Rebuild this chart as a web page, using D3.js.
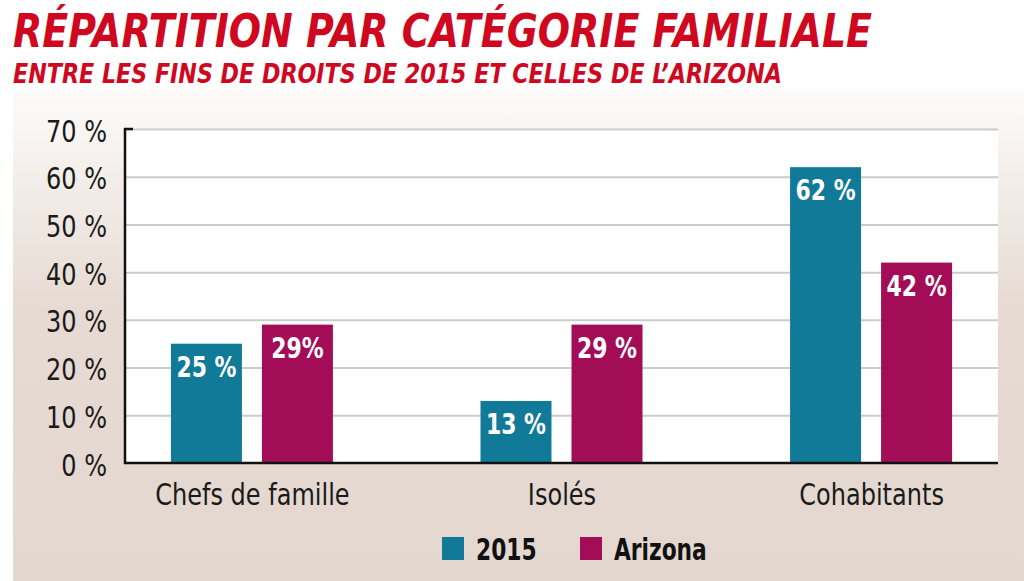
<!DOCTYPE html>
<html>
<head>
<meta charset="utf-8">
<script src="https://cdn.jsdelivr.net/npm/d3@7"></script>
<style>
  body { margin: 0; background: #fff; }
  svg text { font-family: "Liberation Sans Narrow", "DejaVu Sans Condensed", sans-serif; }
</style>
</head>
<body>
<svg id="chart" width="1024" height="581"></svg>
<script>
// data
const categories = ["Chefs de famille", "Isolés", "Cohabitants"];
const seriesNames = ["2015", "Arizona"];
const values2015 = [25, 13, 62];
const valuesArizona = [29, 29, 42];
const labels2015 = ["25 %", "13 %", "62 %"];
const labelsArizona = ["29%", "29 %", "42 %"];
const yTicks = [0, 10, 20, 30, 40, 50, 60, 70];
const seriesColors = ["#117a98", "#a30d58"];

const titleText = "RÉPARTITION PAR CATÉGORIE FAMILIALE";
const subtitleText = "ENTRE LES FINS DE DROITS DE 2015 ET CELLES DE L’ARIZONA";

const svg = d3.select("#chart");
const plotLeft = 125, plotRight = 998, plotTop = 129, plotBottom = 463;

// squeeze text horizontally, the original uses a narrower face
function condense(sel, k) {
    sel.each(function () {
        const w = this.getComputedTextLength();
        d3.select(this)
            .attr("textLength", w * k)
            .attr("lengthAdjust", "spacingAndGlyphs");
    });
}

// background panel
const defs = svg.append("defs");
const grad = defs.append("linearGradient")
    .attr("id", "panelGrad")
    .attr("x1", 0).attr("y1", 0).attr("x2", 0).attr("y2", 1);
grad.append("stop").attr("offset", "0%").attr("stop-color", "#fdfcfb");
grad.append("stop").attr("offset", "45%").attr("stop-color", "#e6dad2");
grad.append("stop").attr("offset", "100%").attr("stop-color", "#e4d7cf");

svg.append("rect")
    .attr("x", 13).attr("y", 88)
    .attr("width", 1011).attr("height", 493)
    .attr("fill", "url(#panelGrad)");

// titles
svg.append("text")
    .attr("x", 13).attr("y", 47)
    .attr("textLength", 859).attr("lengthAdjust", "spacingAndGlyphs")
    .style("font-size", "47px").style("font-weight", "bold").style("font-style", "italic")
    .attr("fill", "#d0081f")
    .text(titleText);

svg.append("text")
    .attr("x", 13).attr("y", 83)
    .attr("textLength", 769).attr("lengthAdjust", "spacingAndGlyphs")
    .style("font-size", "27px").style("font-weight", "bold").style("font-style", "italic")
    .attr("fill", "#d0081f")
    .text(subtitleText);

// scales
const x0 = d3.scalePoint().domain(categories).range([plotLeft, plotRight]).padding(0.41);
const x1 = d3.scaleBand().domain(seriesNames).range([-81, 81]).paddingInner(0.22);
const y = d3.scaleLinear().domain([0, 70]).range([plotBottom, plotTop]);
const color = d3.scaleOrdinal().domain(seriesNames).range(seriesColors);

// plot area
svg.append("rect")
    .attr("x", plotLeft).attr("y", plotTop)
    .attr("width", plotRight - plotLeft).attr("height", plotBottom - plotTop)
    .attr("fill", "#fff");

// grid lines
svg.append("g")
    .attr("transform", `translate(${plotLeft},0)`)
    .call(d3.axisLeft(y).tickValues(yTicks.slice(1)).tickSize(-(plotRight - plotLeft)).tickFormat(""))
    .call(g => g.select(".domain").remove())
    .call(g => g.selectAll(".tick line").attr("stroke", "#cbcbcb").attr("stroke-width", 2));

// bars
const rows = categories.map((c, i) => ({
    category: c,
    items: [
        { series: seriesNames[0], value: values2015[i], label: labels2015[i] },
        { series: seriesNames[1], value: valuesArizona[i], label: labelsArizona[i] }
    ]
}));

const groups = svg.append("g").selectAll("g")
    .data(rows)
    .join("g")
    .attr("transform", d => `translate(${x0(d.category)},0)`);

groups.selectAll("rect")
    .data(d => d.items)
    .join("rect")
    .attr("x", d => x1(d.series))
    .attr("y", d => y(d.value))
    .attr("width", x1.bandwidth())
    .attr("height", d => y(0) - y(d.value))
    .attr("fill", d => color(d.series));

groups.selectAll("text")
    .data(d => d.items)
    .join("text")
    .attr("x", d => x1(d.series) + x1.bandwidth() / 2)
    .attr("y", d => y(d.value) + 33)
    .attr("text-anchor", "middle")
    .attr("fill", "#fff")
    .style("font-size", "29px").style("font-weight", "bold")
    .text(d => d.label)
    .call(condense, 0.84);

// axis lines
svg.append("line")
    .attr("x1", plotLeft).attr("x2", plotLeft)
    .attr("y1", plotTop - 1).attr("y2", plotBottom + 1)
    .attr("stroke", "#111").attr("stroke-width", 2.5);
svg.append("line")
    .attr("x1", plotLeft - 1).attr("x2", plotLeft + 8)
    .attr("y1", plotTop).attr("y2", plotTop)
    .attr("stroke", "#111").attr("stroke-width", 2.5);
svg.append("line")
    .attr("x1", plotLeft - 1).attr("x2", plotRight)
    .attr("y1", plotBottom).attr("y2", plotBottom)
    .attr("stroke", "#111").attr("stroke-width", 2.5);

// y tick labels
svg.append("g")
    .attr("transform", `translate(${plotLeft},0)`)
    .call(d3.axisLeft(y).tickValues(yTicks).tickSize(0).tickPadding(18).tickFormat(d => d + " %"))
    .call(g => g.select(".domain").remove())
    .call(g => g.selectAll(".tick text")
        .attr("dy", null).attr("y", 12)
        .attr("fill", "#1a1a1a")
        .style("font-size", "30px")
        .call(condense, 0.89));

// category labels
svg.append("g")
    .attr("transform", `translate(0,${plotBottom})`)
    .call(d3.axisBottom(x0).tickSize(0).tickPadding(0))
    .call(g => g.select(".domain").remove())
    .call(g => g.selectAll(".tick text")
        .attr("dy", null).attr("y", 42)
        .attr("fill", "#1a1a1a")
        .style("font-size", "30px")
        .call(condense, 0.89));

// legend
const legendX = [442, 580];
const legend = svg.append("g").selectAll("g")
    .data(seriesNames)
    .join("g")
    .attr("transform", (d, i) => `translate(${legendX[i]},537)`);
legend.append("rect")
    .attr("width", 22).attr("height", 23)
    .attr("fill", d => color(d));
legend.append("text")
    .attr("x", 34).attr("y", 23)
    .attr("fill", "#111")
    .style("font-size", "31px").style("font-weight", "bold")
    .text(d => d)
    .call(condense, 0.78);
</script>
</body>
</html>
